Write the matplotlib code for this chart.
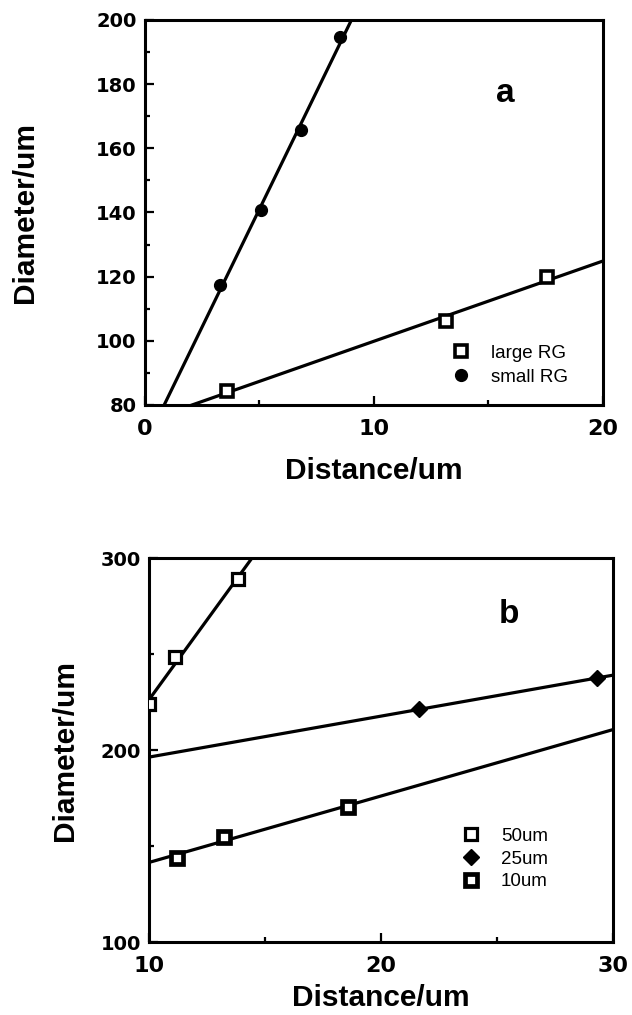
import numpy as np
import matplotlib.pyplot as plt
from matplotlib.ticker import MultipleLocator

# panel a
large_x = [3.57, 13.13, 17.57]
large_y = [84.3, 106.1, 119.9]
small_x = [3.27, 5.08, 6.82, 8.52]
small_y = [117.3, 140.8, 165.8, 194.6]

# panel b
um50_x = [10.0, 11.14, 13.85]
um50_y = [223.8, 248.6, 289.2]
um25_x = [21.66, 29.3]
um25_y = [221.2, 237.5]
um10_x = [11.19, 13.23, 18.57]
um10_y = [144.0, 154.8, 170.5]

plt.rcParams['font.family'] = ['Liberation Sans', 'DejaVu Sans']


def fit_line(ax, x, y, xlim):
    k, b = np.polyfit(x, y, 1)
    xs = np.array(xlim)
    ax.plot(xs, k * xs + b, color='black', lw=2.3, zorder=2)


def style_axes(ax, xmaj, xmin, ymaj, ymin):
    for s in ax.spines.values():
        s.set_linewidth(2.2)
    ax.xaxis.set_major_locator(MultipleLocator(xmaj))
    ax.xaxis.set_minor_locator(MultipleLocator(xmin))
    ax.yaxis.set_major_locator(MultipleLocator(ymaj))
    ax.yaxis.set_minor_locator(MultipleLocator(ymin))
    ax.tick_params(which='both', direction='in', width=1.6)
    ax.tick_params(which='major', length=6.5)
    ax.tick_params(which='minor', length=3.8)
    ax.tick_params(axis='y', pad=6)
    ax.tick_params(axis='x', pad=10)
    for lab in ax.get_yticklabels():
        lab.set_family('DejaVu Sans')
        lab.set_fontweight('bold')
        lab.set_fontsize(14)
    for lab in ax.get_xticklabels():
        lab.set_family('DejaVu Sans')
        lab.set_fontweight('bold')
        lab.set_fontsize(16)
    ax.set_xlabel('Distance/um', fontsize=21.5, fontweight='bold')
    ax.set_ylabel('Diameter/um', fontsize=21.5, fontweight='bold')


fig = plt.figure(figsize=(6.32, 10.15), dpi=100)

# ---- panel a
ax1 = fig.add_axes([0.2294, 0.601, 0.7247, 0.3793])
ax1.set_xlim(0, 20)
ax1.set_ylim(80, 200)
fit_line(ax1, large_x, large_y, (0, 20))
fit_line(ax1, small_x, small_y, (0, 20))
ax1.plot(large_x, large_y, 's', ms=8, mfc='white', mec='black', mew=2.6,
         ls='none', label='large RG', zorder=3)
ax1.plot(small_x, small_y, 'o', ms=8.5, color='black', ls='none',
         label='small RG', zorder=3)
style_axes(ax1, 10, 5, 20, 10)
ax1.xaxis.set_label_coords(0.5, -0.135)
ax1.yaxis.set_label_coords(-0.231, 0.5)
ax1.legend(loc='center left', bbox_to_anchor=(0.665, 0.103), frameon=False,
           fontsize=13.5, handletextpad=1.0, labelspacing=0.35,
           handlelength=1.2, borderpad=0, borderaxespad=0)
ax1.text(0.787, 0.81, 'a', transform=ax1.transAxes, fontsize=24,
         fontweight='bold', ha='center', va='center')

# ---- panel b
ax2 = fig.add_axes([0.2358, 0.0719, 0.734, 0.3783])
ax2.set_xlim(10, 30)
ax2.set_ylim(100, 300)
fit_line(ax2, um50_x, um50_y, (10, 30))
fit_line(ax2, um25_x, um25_y, (10, 30))
fit_line(ax2, um10_x, um10_y, (10, 30))
ax2.plot(um50_x, um50_y, 's', ms=8, mfc='white', mec='black', mew=2.3,
         ls='none', label='50um', zorder=3)
ax2.plot(um25_x, um25_y, 'D', ms=8, color='black', ls='none',
         label='25um', zorder=3)
ax2.plot(um10_x, um10_y, 's', ms=8.5, mfc='white', mec='black', mew=3.4,
         ls='none', label='10um', zorder=3)
style_axes(ax2, 10, 5, 100, 50)
ax2.xaxis.set_label_coords(0.5, -0.109)
ax2.yaxis.set_label_coords(-0.151, 0.5)
ax2.legend(loc='center left', bbox_to_anchor=(0.67, 0.216), frameon=False,
           fontsize=13.5, handletextpad=1.0, labelspacing=0.3,
           handlelength=1.2, borderpad=0, borderaxespad=0)
ax2.text(0.775, 0.852, 'b', transform=ax2.transAxes, fontsize=24,
         fontweight='bold', ha='center', va='center')

fig.savefig('out.png', dpi=100)
